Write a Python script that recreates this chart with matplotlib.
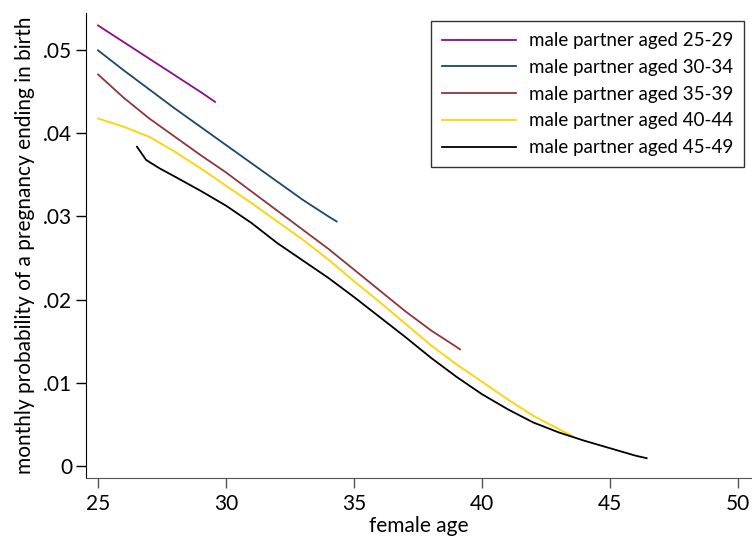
import matplotlib
matplotlib.use("Agg")
import matplotlib.pyplot as plt

plt.rcParams['font.family'] = ['Lato', 'DejaVu Sans']

# female age / monthly probability
age_2529 = [25.0, 26.0, 27.0, 28.0, 29.0, 29.57]
p_2529 = [0.0530, 0.0510, 0.0490, 0.0470, 0.0450, 0.0438]

age_3034 = [25, 26, 27, 28, 29, 30, 31, 32, 33, 34, 34.32]
p_3034 = [0.0500, 0.0476, 0.0453, 0.0430, 0.0408, 0.0386, 0.0364, 0.0342,
          0.0320, 0.0300, 0.0294]

age_3539 = [25, 26, 27, 28, 29, 30, 31, 32, 33, 34, 35, 36, 37, 38, 39, 39.14]
p_3539 = [0.0471, 0.0443, 0.0418, 0.0396, 0.0374, 0.0353, 0.0330, 0.0307,
          0.0284, 0.0261, 0.0236, 0.0211, 0.0186, 0.0163, 0.0143, 0.0140]

age_4044 = [25, 26, 27, 28, 29, 30, 31, 32, 33, 34, 35, 36, 37, 38, 39, 40,
            41, 42, 43, 43.57]
p_4044 = [0.0418, 0.0408, 0.0396, 0.0378, 0.0358, 0.0337, 0.0316, 0.0294,
          0.0272, 0.0248, 0.0222, 0.0197, 0.0171, 0.0145, 0.0122, 0.0101,
          0.0080, 0.0060, 0.0044, 0.0035]

age_4549 = [26.52, 26.88, 27.4, 28, 29, 30, 31, 32, 33, 34, 35, 36, 37, 38,
            39, 40, 41, 42, 43, 44, 45, 46, 46.43]
p_4549 = [0.0384, 0.0368, 0.0358, 0.0348, 0.0331, 0.0313, 0.0292, 0.0268,
          0.0247, 0.0226, 0.0203, 0.0179, 0.0155, 0.0130, 0.0107, 0.0086,
          0.0068, 0.0052, 0.0040, 0.0030, 0.0021, 0.0012, 0.0009]

series = [
    (age_2529, p_2529, '#8b0c8b', 'male partner aged 25-29'),
    (age_3034, p_3034, '#1a476f', 'male partner aged 30-34'),
    (age_3539, p_3539, '#90353b', 'male partner aged 35-39'),
    (age_4044, p_4044, '#ffd200', 'male partner aged 40-44'),
    (age_4549, p_4549, '#000000', 'male partner aged 45-49'),
]

fig = plt.figure(figsize=(7.52, 5.41), dpi=100)
ax = fig.add_axes([0.1144, 0.117, 0.884, 0.859])

for x, y, c, lab in series:
    ax.plot(x, y, color=c, lw=1.3, label=lab)

ax.set_xlim(24.53, 50.5)
ax.set_ylim(-0.00145, 0.0545)
ax.set_xticks([25, 30, 35, 40, 45, 50])
ax.set_yticks([0, 0.01, 0.02, 0.03, 0.04, 0.05])
ax.set_yticklabels(['0', '.01', '.02', '.03', '.04', '.05'])

ax.spines['top'].set_visible(False)
ax.spines['right'].set_visible(False)
ax.spines['left'].set_color('black')
ax.spines['bottom'].set_color('#555555')
ax.tick_params(axis='both', direction='out', length=7, width=1, labelsize=15,
               colors='black', pad=3)
ax.tick_params(axis='x', colors='#555555', labelcolor='black', pad=5)

ax.set_xlabel('female age', fontsize=15, labelpad=1)
ax.set_ylabel('monthly probability of a pregnancy ending in birth', fontsize=15, labelpad=6)

leg = ax.legend(loc='upper right', bbox_to_anchor=(0.990, 0.983), borderaxespad=0,
                fontsize=13.5, frameon=True, fancybox=False, edgecolor='black',
                handlelength=3.9, handletextpad=0.7, labelspacing=0.52, borderpad=0.6)
leg.get_frame().set_linewidth(1.0)

fig.savefig('out.png', dpi=100)
